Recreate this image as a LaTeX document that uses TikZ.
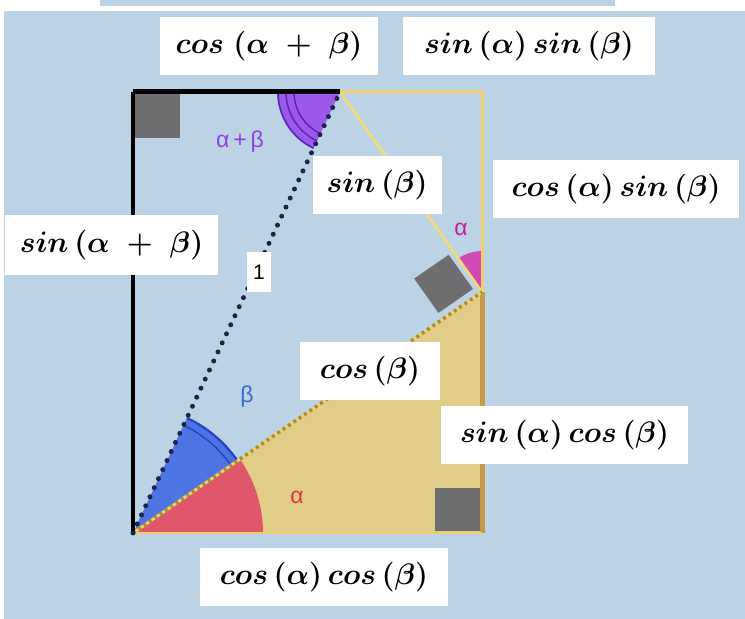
\documentclass[tikz,border=0pt]{standalone}
\usepackage{graphicx}
\usepackage{fontspec}
\newfontfamily\lblfont{Liberation Sans}
\usetikzlibrary{calc}
\definecolor{bg}{HTML}{BCD3E6}
\definecolor{tanfill}{HTML}{E2CD88}
\definecolor{yel}{HTML}{F2CF6E}
\definecolor{yelline}{HTML}{F0DC70}
\definecolor{goldline}{HTML}{C49C45}
\definecolor{olive}{HTML}{A0923A}
\definecolor{navy}{HTML}{1C2448}
\definecolor{redsec}{HTML}{E0566A}
\definecolor{bluesec}{HTML}{4D74E2}
\definecolor{darkblue}{HTML}{2345C8}
\definecolor{purpsec}{HTML}{9B58EA}
\definecolor{darkpurp}{HTML}{5B22B8}
\definecolor{magsec}{HTML}{D24AB4}
\definecolor{sqgray}{HTML}{6E6E70}
\definecolor{txtpurp}{HTML}{9040E0}
\definecolor{txtblue}{HTML}{3A6AD8}
\definecolor{txtred}{HTML}{E03535}
\definecolor{txtmag}{HTML}{C020A0}
\newcommand{\trigtxt}[1]{\scalebox{1.19}{$#1$}}
\tikzset{
  wbox/.style={fill=white, inner sep=0pt, minimum height=58pt, text=black,
    font=\fontsize{24.88}{30}\selectfont\boldmath},
  anglbl/.style={font=\lblfont\fontsize{23}{26}\selectfont, inner sep=0pt},
}
\begin{document}
\begin{tikzpicture}[x=1pt,y=1pt]
\useasboundingbox (0,0) rectangle (745,619);
\fill[white] (0,0) rectangle (745,619);
\fill[bg] (4,0) rectangle (745,608);
\fill[bg] (100,613) rectangle (615,619);

\coordinate (O) at (133,86);
\coordinate (B) at (482,86);
\coordinate (TL) at (133,527);
\coordinate (P) at (340,527);
\coordinate (Q) at (482,327);
\coordinate (TR) at (482,527);

% tan triangle
\fill[tanfill] (O) -- (B) -- (Q) -- cycle;

% angle sectors
\fill[redsec] (O) -- ++(0:130) arc (0:34.63:130) -- cycle;
\fill[bluesec] (O) -- ++(34.63:128) arc (34.63:64.86:128) -- cycle;
\draw[darkblue, line width=2.2] ($(O)+(34.63:127)$) arc (34.63:64.86:127);
\draw[darkblue, line width=1.4] ($(O)+(34.63:119)$) arc (34.63:64.86:119);
\fill[purpsec] (P) -- ++(180:63) arc (180:244.86:63) -- cycle;
\foreach \r in {62,54,46}{
  \draw[darkpurp, line width=1.4] ($(P)+(180:\r)$) arc (180:244.86:\r);
}
\fill[magsec] (Q) -- ++(90:41) arc (90:125.37:41) -- cycle;

% right-angle squares
\fill[sqgray] (135,525) rectangle (180,481);
\fill[sqgray] (435,88) rectangle (480,131);
\fill[sqgray] ($(Q)+(-9,3)$) -- ++(125.37:42) -- ++(214.63:42) -- ++(305.37:42) -- cycle;

% lines
\draw[yelline, line width=2.6] (P) -- (Q);
\draw[yel, line width=3] (P) -- (TR) -- (Q);
\draw[goldline, line width=5] (Q) -- (B);
\draw[yel, line width=1.5] (O) -- (B);
\draw[yel, line width=3] (O) -- (Q);
\draw[olive, line width=3.5, dash pattern=on 3pt off 3.5pt] (O) -- (Q);
\draw[black, line width=4] (O) -- (TL);
\draw[black, line width=5] (TL) -- (P);
\draw[navy, line width=5, line cap=round, dash pattern=on 0pt off 10pt] (O) -- (P);

% angle labels
\node[anglbl, text=txtpurp] (lab) at (240,477) {α\,+\,β};
\node[anglbl, text=txtblue] (lb) at (247,222) {β};
\node[anglbl, text=txtred] (la) at (297,122) {α};
\node[anglbl, text=txtmag] (la2) at (461,390) {α};
\node[fill=white, inner sep=0pt, minimum width=24pt, minimum height=40pt,
  font=\lblfont\fontsize{21}{24}\selectfont] (one) at (259,347) {1};

% value boxes
\node[wbox, minimum width=218pt] (cab) at (269,572.5) {\trigtxt{cos\;(\alpha\;+\;\beta)}};
\node[wbox, minimum width=252pt] (sasb) at (529,572.5) {\trigtxt{sin\,(\alpha)\,sin\,(\beta)}};
\node[wbox, minimum width=129pt] (sb) at (377,434) {\trigtxt{sin\,(\beta)}};
\node[wbox, minimum width=246pt] (casb) at (616,430) {\trigtxt{cos\,(\alpha)\,sin\,(\beta)}};
\node[wbox, minimum width=213pt, minimum height=60pt] (sab) at (111.5,374) {\trigtxt{sin\,(\alpha\;+\;\beta)}};
\node[wbox, minimum width=140pt] (cb) at (370,248) {\trigtxt{cos\,(\beta)}};
\node[wbox, minimum width=247pt] (sacb) at (564.5,184) {\trigtxt{sin\,(\alpha)\,cos\,(\beta)}};
\node[wbox, minimum width=248pt] (cacb) at (324,42) {\trigtxt{cos\,(\alpha)\,cos\,(\beta)}};
\end{tikzpicture}
\end{document}
